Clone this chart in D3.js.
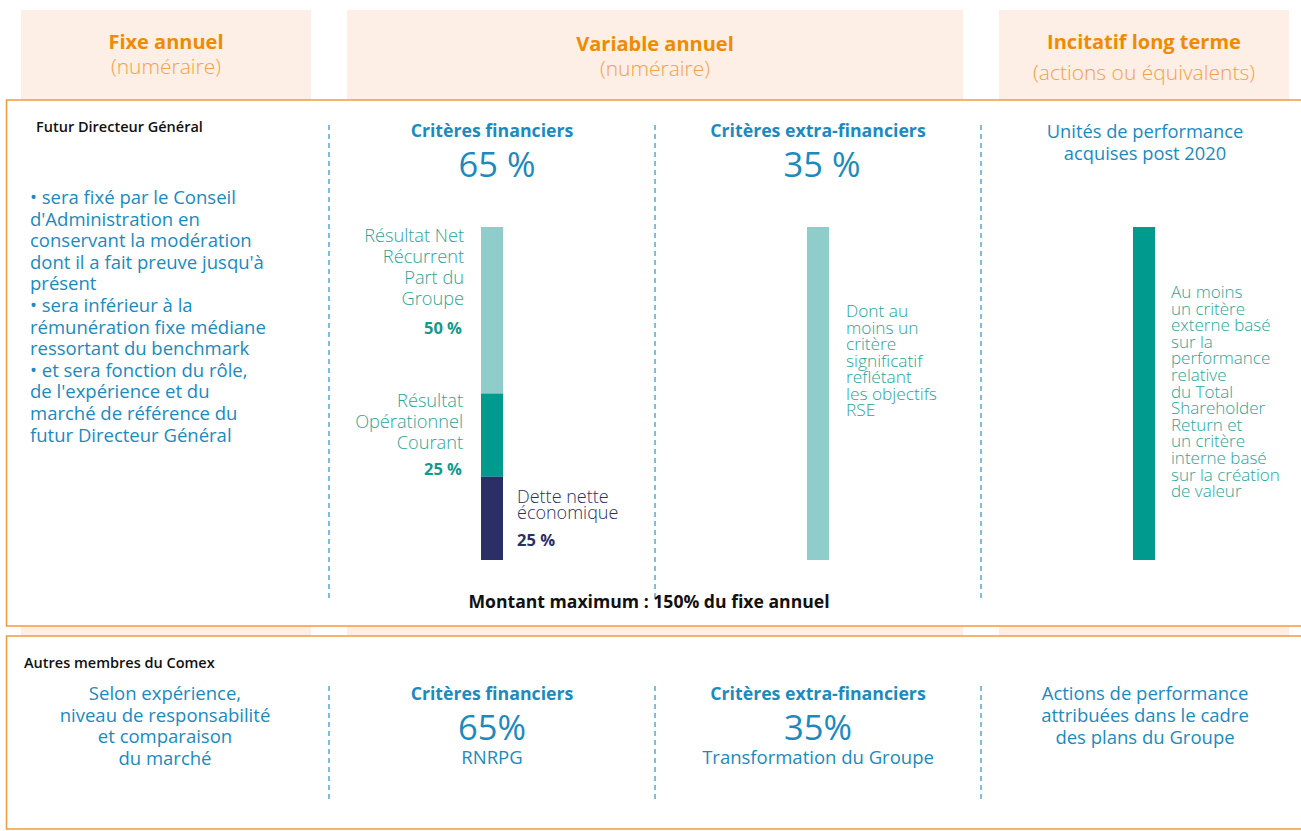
<!DOCTYPE html>
<html lang="fr">
<head>
<meta charset="UTF-8">
<title>Rémunération du Directeur Général</title>
<script src="https://d3js.org/d3.v7.min.js"></script>
<style>
  body { margin: 0; background: #fff; }
  text { font-family: "Open Sans", sans-serif; }
  .blue { fill: #1a8abf; }
  .teal { fill: #2aa59a; }
  .navy { fill: #2b2f66; }
</style>
</head>
<body>
<div id="chart"></div>
<script>
// column headers
const columns = ["Fixe annuel", "Variable annuel", "Incitatif long terme"];
const columnSubs = ["(numéraire)", "(numéraire)", "(actions ou équivalents)"];

// stacked bars (share of each block, %)
const finCriteria = ["Résultat Net Récurrent Part du Groupe", "Résultat Opérationnel Courant", "Dette nette économique"];
const finShares = [50, 25, 25];
const extraShares = [100];
const ltiShares = [100];

const finTotal = "65 %", extraTotal = "35 %";
const comexFin = "65%", comexExtra = "35%";

const width = 1301, height = 831;
const svg = d3.select("#chart").append("svg")
    .attr("width", width).attr("height", height);

// header columns (peach) run down behind the boxes
const colX = d3.scaleOrdinal().domain(columns).range([[21, 311], [347, 963], [999, 1289]]);
svg.selectAll("rect.col").data(columns).enter().append("rect")
    .attr("x", d => colX(d)[0]).attr("y", 10)
    .attr("width", d => colX(d)[1] - colX(d)[0]).attr("height", 640)
    .attr("fill", "#fdefe5");

columns.forEach((c, i) => {
    const cx = (colX(c)[0] + colX(c)[1]) / 2;
    svg.append("text").attr("x", cx).attr("y", i == 1 ? 51 : 49)
        .attr("text-anchor", "middle").attr("font-size", 20).attr("font-weight", 700)
        .attr("fill", "#f18a00").text(c);
    svg.append("text").attr("x", cx).attr("y", i == 2 ? 80 : (i == 1 ? 76 : 74))
        .attr("text-anchor", "middle").attr("font-size", 21).attr("font-weight", 300)
        .attr("fill", "#f5a04a").text(columnSubs[i]);
});

// the two white boxes with orange borders
[[100, 626], [636, 829]].forEach(b => {
    svg.append("rect").attr("x", 6.5).attr("y", b[0])
        .attr("width", 1310).attr("height", b[1] - b[0])
        .attr("fill", "#fff").attr("stroke", "#f39a3c").attr("stroke-width", 1.5);
});

// dashed separators
[329, 655, 981].forEach(x => {
    svg.append("line").attr("x1", x).attr("x2", x).attr("y1", 125).attr("y2", 598)
        .attr("stroke", "#3a9bcb").attr("stroke-width", 1.3).attr("stroke-dasharray", "5,4");
    svg.append("line").attr("x1", x).attr("x2", x).attr("y1", 686).attr("y2", 803)
        .attr("stroke", "#3a9bcb").attr("stroke-width", 1.3).attr("stroke-dasharray", "5,4");
});

function lines(x, y0, dy, arr, cls, size, anchor, weight) {
    const t = svg.append("text").attr("class", cls).attr("font-size", size)
        .attr("text-anchor", anchor || "start").attr("font-weight", weight || 400);
    arr.forEach((s, i) => t.append("tspan").attr("x", x).attr("y", y0 + i * dy).text(s));
    return t;
}

// ---- box 1 : futur DG
svg.append("text").attr("x", 36).attr("y", 132).attr("font-size", 14.5).attr("font-weight", 600)
    .attr("fill", "#111").text("Futur Directeur Général");

lines(30, 204, 21.6, [
    "• sera fixé par le Conseil",
    "d'Administration en",
    "conservant la modération",
    "dont il a fait preuve jusqu'à",
    "présent",
    "• sera inférieur à la",
    "rémunération fixe médiane",
    "ressortant du benchmark",
    "• et sera fonction du rôle,",
    "de l'expérience et du",
    "marché de référence du",
    "futur Directeur Général"
], "blue", 18.5);

lines(492, 137, 0, ["Critères financiers"], "blue", 17.7, "middle", 700);
svg.append("text").attr("class", "blue").attr("x", 497).attr("y", 177).attr("font-size", 34.5)
    .attr("text-anchor", "middle").text(finTotal);
lines(818, 137, 0, ["Critères extra-financiers"], "blue", 17.7, "middle", 700);
svg.append("text").attr("class", "blue").attr("x", 822).attr("y", 177).attr("font-size", 34.5)
    .attr("text-anchor", "middle").text(extraTotal);
lines(1145, 138, 21.5, ["Unités de performance", "acquises post 2020"], "blue", 18.3, "middle");

// bars
const y = d3.scaleLinear().domain([0, 100]).range([560, 227]);
const barW = 22;
const stack = arr => { let acc = 100; return arr.map(v => { const top = acc; acc -= v; return [top, acc]; }); };

const finColors = ["#8ecdca", "#009b8f", "#2b2f66"];
svg.selectAll("rect.fin").data(stack(finShares)).enter().append("rect")
    .attr("x", 481).attr("width", barW)
    .attr("y", d => y(d[0])).attr("height", d => y(d[1]) - y(d[0]))
    .attr("fill", (d, i) => finColors[i]);
svg.selectAll("rect.extra").data(stack(extraShares)).enter().append("rect")
    .attr("x", 807).attr("width", barW)
    .attr("y", d => y(d[0])).attr("height", d => y(d[1]) - y(d[0]))
    .attr("fill", "#8ecdca");
svg.selectAll("rect.lti").data(stack(ltiShares)).enter().append("rect")
    .attr("x", 1133).attr("width", barW)
    .attr("y", d => y(d[0])).attr("height", d => y(d[1]) - y(d[0]))
    .attr("fill", "#009b8f");

// bar labels
const st = stack(finShares);
lines(464, y(st[0][0]) + 15, 21, ["Résultat Net", "Récurrent", "Part du", "Groupe"], "teal", 18.2, "end", 300);
svg.append("text").attr("x", 462).attr("y", y(st[0][0]) + 107).attr("font-size", 16.5).attr("font-weight", 700)
    .attr("fill", "#14998d").attr("text-anchor", "end").text(finShares[0] + " %");
lines(463, y(st[1][0]) + 13, 21, ["Résultat", "Opérationnel", "Courant"], "teal", 18.2, "end", 300);
svg.append("text").attr("x", 462).attr("y", y(st[1][0]) + 81).attr("font-size", 16.5).attr("font-weight", 700)
    .attr("fill", "#14998d").attr("text-anchor", "end").text(finShares[1] + " %");
lines(517, 503, 16, ["Dette nette", "économique"], "navy", 18, "start", 300);
svg.append("text").attr("x", 517).attr("y", 546).attr("font-size", 16.5).attr("font-weight", 700)
    .attr("fill", "#2b2f66").text(finShares[2] + " %");

lines(846, 317, 16.5, ["Dont au", "moins un", "critère", "significatif", "reflétant", "les objectifs", "RSE"],
    "teal", 17.3, "start", 300);
lines(1171, 298, 16.6, ["Au moins", "un critère", "externe basé", "sur la", "performance", "relative",
    "du Total", "Shareholder", "Return et", "un critère", "interne basé", "sur la création", "de valeur"],
    "teal", 17, "start", 300);

svg.append("text").attr("x", 649).attr("y", 608).attr("font-size", 17.6).attr("font-weight", 700)
    .attr("text-anchor", "middle").attr("fill", "#111").text("Montant maximum : 150% du fixe annuel");

// ---- box 2 : autres membres du Comex
svg.append("text").attr("x", 24).attr("y", 668).attr("font-size", 14.5).attr("font-weight", 600)
    .attr("fill", "#111").text("Autres membres du Comex");
lines(165, 700, 21.5, ["Selon expérience,", "niveau de responsabilité", "et comparaison", "du marché"], "blue", 18.5, "middle");
lines(492, 700, 0, ["Critères financiers"], "blue", 17.7, "middle", 700);
svg.append("text").attr("class", "blue").attr("x", 492).attr("y", 740).attr("font-size", 34.5)
    .attr("text-anchor", "middle").text(comexFin);
lines(492, 764, 0, ["RNRPG"], "blue", 18.5, "middle");
lines(818, 700, 0, ["Critères extra-financiers"], "blue", 17.7, "middle", 700);
svg.append("text").attr("class", "blue").attr("x", 818).attr("y", 740).attr("font-size", 34.5)
    .attr("text-anchor", "middle").text(comexExtra);
lines(818, 764, 0, ["Transformation du Groupe"], "blue", 18.5, "middle");
lines(1145, 700, 22, ["Actions de performance", "attribuées dans le cadre", "des plans du Groupe"], "blue", 18.5, "middle");
</script>
</body>
</html>
